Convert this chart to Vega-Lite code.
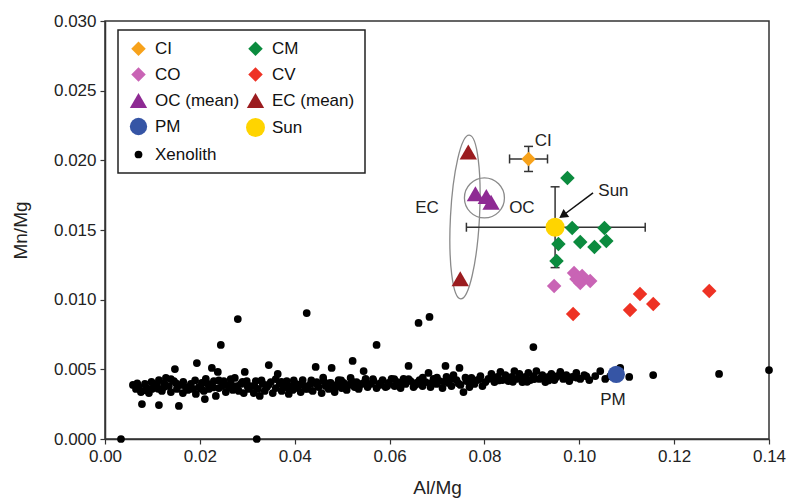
{
  "$schema": "https://vega.github.io/schema/vega-lite/v6.json",
  "width": 664,
  "height": 418,
  "autosize": {"type": "none"},
  "padding": {"left": 105, "top": 21, "right": 24, "bottom": 60},
  "background": "white",
  "datasets": {
    "points": [
      {"g":"Xenolith","x":0.00589,"y":0.00388},{"g":"Xenolith","x":0.00653,"y":0.00359},{"g":"Xenolith","x":0.00716,"y":0.00373},{"g":"Xenolith","x":0.00758,"y":0.00337},{"g":"Xenolith","x":0.00779,"y":0.00251},
      {"g":"Xenolith","x":0.00842,"y":0.00395},{"g":"Xenolith","x":0.00884,"y":0.00366},{"g":"Xenolith","x":0.00926,"y":0.0033},{"g":"Xenolith","x":0.00989,"y":0.00359},{"g":"Xenolith","x":0.01032,"y":0.00388},
      {"g":"Xenolith","x":0.01095,"y":0.00395},{"g":"Xenolith","x":0.01137,"y":0.00423},{"g":"Xenolith","x":0.01137,"y":0.00244},{"g":"Xenolith","x":0.012,"y":0.00345},{"g":"Xenolith","x":0.01242,"y":0.00373},
      {"g":"Xenolith","x":0.01284,"y":0.00438},{"g":"Xenolith","x":0.01347,"y":0.0038},{"g":"Xenolith","x":0.01389,"y":0.00337},{"g":"Xenolith","x":0.01453,"y":0.00416},{"g":"Xenolith","x":0.01474,"y":0.00502},
      {"g":"Xenolith","x":0.01516,"y":0.00359},{"g":"Xenolith","x":0.01558,"y":0.00237},{"g":"Xenolith","x":0.016,"y":0.00388},{"g":"Xenolith","x":0.01642,"y":0.0033},{"g":"Xenolith","x":0.01705,"y":0.00373},
      {"g":"Xenolith","x":0.01747,"y":0.00352},{"g":"Xenolith","x":0.01811,"y":0.00395},{"g":"Xenolith","x":0.01853,"y":0.00359},{"g":"Xenolith","x":0.01916,"y":0.00323},{"g":"Xenolith","x":0.01937,"y":0.00545},
      {"g":"Xenolith","x":0.01979,"y":0.00373},{"g":"Xenolith","x":0.02042,"y":0.00402},{"g":"Xenolith","x":0.02084,"y":0.00345},{"g":"Xenolith","x":0.02105,"y":0.00287},{"g":"Xenolith","x":0.02126,"y":0.00431},
      {"g":"Xenolith","x":0.02189,"y":0.00359},{"g":"Xenolith","x":0.02232,"y":0.00388},{"g":"Xenolith","x":0.02253,"y":0.0051},{"g":"Xenolith","x":0.02295,"y":0.00416},{"g":"Xenolith","x":0.02337,"y":0.00309},
      {"g":"Xenolith","x":0.02379,"y":0.00481},{"g":"Xenolith","x":0.024,"y":0.00366},{"g":"Xenolith","x":0.02463,"y":0.0038},{"g":"Xenolith","x":0.02505,"y":0.00416},{"g":"Xenolith","x":0.02547,"y":0.00337},
      {"g":"Xenolith","x":0.02611,"y":0.00373},{"g":"Xenolith","x":0.02653,"y":0.00402},{"g":"Xenolith","x":0.02695,"y":0.00352},{"g":"Xenolith","x":0.02737,"y":0.00438},{"g":"Xenolith","x":0.02779,"y":0.0038},
      {"g":"Xenolith","x":0.02821,"y":0.00345},{"g":"Xenolith","x":0.02863,"y":0.00395},{"g":"Xenolith","x":0.02926,"y":0.0033},{"g":"Xenolith","x":0.02947,"y":0.00481},{"g":"Xenolith","x":0.02989,"y":0.00416},
      {"g":"Xenolith","x":0.03032,"y":0.00359},
      {"g":"Xenolith","x":0.0068,"y":0.004},{"g":"Xenolith","x":0.0085,"y":0.0035},{"g":"Xenolith","x":0.0098,"y":0.0041},{"g":"Xenolith","x":0.0112,"y":0.0036},{"g":"Xenolith","x":0.0125,"y":0.004},
      {"g":"Xenolith","x":0.0139,"y":0.0043},{"g":"Xenolith","x":0.015,"y":0.004},{"g":"Xenolith","x":0.0165,"y":0.0041},{"g":"Xenolith","x":0.0178,"y":0.0037},{"g":"Xenolith","x":0.019,"y":0.0042},
      {"g":"Xenolith","x":0.0203,"y":0.0036},{"g":"Xenolith","x":0.0215,"y":0.004},{"g":"Xenolith","x":0.0228,"y":0.0037},{"g":"Xenolith","x":0.024,"y":0.0042},{"g":"Xenolith","x":0.0252,"y":0.0039},
      {"g":"Xenolith","x":0.0265,"y":0.0043},{"g":"Xenolith","x":0.0278,"y":0.0036},{"g":"Xenolith","x":0.029,"y":0.0041},{"g":"Xenolith","x":0.03,"y":0.0038},
      {"g":"Xenolith","x":0.03074,"y":0.0038},{"g":"Xenolith","x":0.03137,"y":0.0033},{"g":"Xenolith","x":0.03179,"y":0.00416},{"g":"Xenolith","x":0.03221,"y":0.00359},{"g":"Xenolith","x":0.03263,"y":0.00309},
      {"g":"Xenolith","x":0.03326,"y":0.00395},{"g":"Xenolith","x":0.03368,"y":0.00345},{"g":"Xenolith","x":0.03411,"y":0.00373},{"g":"Xenolith","x":0.03453,"y":0.00531},{"g":"Xenolith","x":0.03495,"y":0.00409},
      {"g":"Xenolith","x":0.03537,"y":0.0033},{"g":"Xenolith","x":0.036,"y":0.00366},{"g":"Xenolith","x":0.03642,"y":0.00467},{"g":"Xenolith","x":0.03684,"y":0.00395},{"g":"Xenolith","x":0.03726,"y":0.00345},
      {"g":"Xenolith","x":0.03768,"y":0.00373},{"g":"Xenolith","x":0.03832,"y":0.00416},{"g":"Xenolith","x":0.03874,"y":0.00323},{"g":"Xenolith","x":0.03916,"y":0.0038},{"g":"Xenolith","x":0.03958,"y":0.00352},
      {"g":"Xenolith","x":0.04021,"y":0.00395},{"g":"Xenolith","x":0.04063,"y":0.00366},{"g":"Xenolith","x":0.04126,"y":0.00337},{"g":"Xenolith","x":0.04168,"y":0.00423},{"g":"Xenolith","x":0.04232,"y":0.0038},
      {"g":"Xenolith","x":0.04274,"y":0.00359},{"g":"Xenolith","x":0.04337,"y":0.00395},{"g":"Xenolith","x":0.04379,"y":0.00345},{"g":"Xenolith","x":0.04442,"y":0.00517},{"g":"Xenolith","x":0.04463,"y":0.00409},
      {"g":"Xenolith","x":0.04505,"y":0.00373},{"g":"Xenolith","x":0.04568,"y":0.0033},{"g":"Xenolith","x":0.04611,"y":0.00416},{"g":"Xenolith","x":0.04653,"y":0.0038},{"g":"Xenolith","x":0.04716,"y":0.00359},
      {"g":"Xenolith","x":0.04758,"y":0.00402},{"g":"Xenolith","x":0.04779,"y":0.0051},{"g":"Xenolith","x":0.04842,"y":0.00337},{"g":"Xenolith","x":0.04884,"y":0.00388},{"g":"Xenolith","x":0.04926,"y":0.00423},
      {"g":"Xenolith","x":0.04989,"y":0.00366},{"g":"Xenolith","x":0.05032,"y":0.00402},{"g":"Xenolith","x":0.05095,"y":0.00352},{"g":"Xenolith","x":0.05137,"y":0.00388},{"g":"Xenolith","x":0.05179,"y":0.00438},
      {"g":"Xenolith","x":0.05221,"y":0.0056},{"g":"Xenolith","x":0.05263,"y":0.00373},{"g":"Xenolith","x":0.05305,"y":0.00409},{"g":"Xenolith","x":0.05347,"y":0.00359},{"g":"Xenolith","x":0.05411,"y":0.00395},
      {"g":"Xenolith","x":0.05453,"y":0.00488},{"g":"Xenolith","x":0.05495,"y":0.00431},{"g":"Xenolith","x":0.05537,"y":0.00373},
      {"g":"Xenolith","x":0.0315,"y":0.0038},{"g":"Xenolith","x":0.033,"y":0.0042},{"g":"Xenolith","x":0.0345,"y":0.0039},{"g":"Xenolith","x":0.036,"y":0.0043},{"g":"Xenolith","x":0.0372,"y":0.0041},
      {"g":"Xenolith","x":0.0385,"y":0.0037},{"g":"Xenolith","x":0.0398,"y":0.0042},{"g":"Xenolith","x":0.041,"y":0.0039},{"g":"Xenolith","x":0.0422,"y":0.0036},{"g":"Xenolith","x":0.0435,"y":0.0042},
      {"g":"Xenolith","x":0.0448,"y":0.0039},{"g":"Xenolith","x":0.046,"y":0.0044},{"g":"Xenolith","x":0.0472,"y":0.004},{"g":"Xenolith","x":0.0485,"y":0.0037},{"g":"Xenolith","x":0.0498,"y":0.0042},
      {"g":"Xenolith","x":0.051,"y":0.0038},{"g":"Xenolith","x":0.0522,"y":0.0041},{"g":"Xenolith","x":0.0535,"y":0.0037},{"g":"Xenolith","x":0.0548,"y":0.0041},
      {"g":"Xenolith","x":0.056,"y":0.00395},{"g":"Xenolith","x":0.05663,"y":0.00416},{"g":"Xenolith","x":0.05726,"y":0.00366},{"g":"Xenolith","x":0.05789,"y":0.00388},{"g":"Xenolith","x":0.05853,"y":0.00423},
      {"g":"Xenolith","x":0.05916,"y":0.00373},{"g":"Xenolith","x":0.05979,"y":0.00402},{"g":"Xenolith","x":0.06042,"y":0.00431},{"g":"Xenolith","x":0.06105,"y":0.0038},{"g":"Xenolith","x":0.06168,"y":0.00409},
      {"g":"Xenolith","x":0.06232,"y":0.00366},{"g":"Xenolith","x":0.06295,"y":0.00431},{"g":"Xenolith","x":0.06337,"y":0.00395},{"g":"Xenolith","x":0.064,"y":0.00524},{"g":"Xenolith","x":0.06442,"y":0.00416},
      {"g":"Xenolith","x":0.06505,"y":0.00373},{"g":"Xenolith","x":0.06568,"y":0.00402},{"g":"Xenolith","x":0.06632,"y":0.00423},{"g":"Xenolith","x":0.06695,"y":0.0038},{"g":"Xenolith","x":0.06758,"y":0.00409},
      {"g":"Xenolith","x":0.06821,"y":0.00474},{"g":"Xenolith","x":0.06863,"y":0.00373},{"g":"Xenolith","x":0.06926,"y":0.00431},{"g":"Xenolith","x":0.06989,"y":0.00395},{"g":"Xenolith","x":0.07053,"y":0.00416},
      {"g":"Xenolith","x":0.07116,"y":0.00366},{"g":"Xenolith","x":0.07179,"y":0.00524},{"g":"Xenolith","x":0.072,"y":0.00445},{"g":"Xenolith","x":0.07242,"y":0.00402},{"g":"Xenolith","x":0.07305,"y":0.0038},
      {"g":"Xenolith","x":0.07347,"y":0.00459},{"g":"Xenolith","x":0.07411,"y":0.00423},{"g":"Xenolith","x":0.07474,"y":0.0051},{"g":"Xenolith","x":0.07495,"y":0.00388},{"g":"Xenolith","x":0.07558,"y":0.00337},
      {"g":"Xenolith","x":0.07621,"y":0.00416},{"g":"Xenolith","x":0.07684,"y":0.00373},{"g":"Xenolith","x":0.07726,"y":0.00438},{"g":"Xenolith","x":0.07789,"y":0.00395},{"g":"Xenolith","x":0.07853,"y":0.00423},
      {"g":"Xenolith","x":0.07916,"y":0.00452},{"g":"Xenolith","x":0.07958,"y":0.0038},{"g":"Xenolith","x":0.08021,"y":0.00409},
      {"g":"Xenolith","x":0.0565,"y":0.0043},{"g":"Xenolith","x":0.058,"y":0.004},{"g":"Xenolith","x":0.0595,"y":0.0038},{"g":"Xenolith","x":0.061,"y":0.0043},{"g":"Xenolith","x":0.0625,"y":0.004},
      {"g":"Xenolith","x":0.064,"y":0.0043},{"g":"Xenolith","x":0.0655,"y":0.0039},{"g":"Xenolith","x":0.067,"y":0.0044},{"g":"Xenolith","x":0.0685,"y":0.004},{"g":"Xenolith","x":0.07,"y":0.0044},
      {"g":"Xenolith","x":0.0715,"y":0.0041},{"g":"Xenolith","x":0.073,"y":0.0043},{"g":"Xenolith","x":0.0745,"y":0.004},{"g":"Xenolith","x":0.076,"y":0.0044},{"g":"Xenolith","x":0.0775,"y":0.0041},
      {"g":"Xenolith","x":0.079,"y":0.0043},
      {"g":"Xenolith","x":0.08084,"y":0.00431},{"g":"Xenolith","x":0.08147,"y":0.00467},{"g":"Xenolith","x":0.08211,"y":0.00409},{"g":"Xenolith","x":0.08274,"y":0.00445},{"g":"Xenolith","x":0.08337,"y":0.00481},
      {"g":"Xenolith","x":0.08379,"y":0.00423},{"g":"Xenolith","x":0.08442,"y":0.00459},{"g":"Xenolith","x":0.08505,"y":0.00416},{"g":"Xenolith","x":0.08568,"y":0.00445},{"g":"Xenolith","x":0.08632,"y":0.00488},
      {"g":"Xenolith","x":0.08674,"y":0.00431},{"g":"Xenolith","x":0.08737,"y":0.00467},{"g":"Xenolith","x":0.088,"y":0.00409},{"g":"Xenolith","x":0.08863,"y":0.00445},{"g":"Xenolith","x":0.08926,"y":0.00474},
      {"g":"Xenolith","x":0.08968,"y":0.00423},{"g":"Xenolith","x":0.09032,"y":0.00452},{"g":"Xenolith","x":0.09095,"y":0.00488},{"g":"Xenolith","x":0.09158,"y":0.00431},{"g":"Xenolith","x":0.09221,"y":0.00459},
      {"g":"Xenolith","x":0.09284,"y":0.00409},{"g":"Xenolith","x":0.09347,"y":0.00445},{"g":"Xenolith","x":0.09411,"y":0.00467},{"g":"Xenolith","x":0.09474,"y":0.00423},{"g":"Xenolith","x":0.09537,"y":0.00452},
      {"g":"Xenolith","x":0.096,"y":0.00481},{"g":"Xenolith","x":0.09663,"y":0.00431},{"g":"Xenolith","x":0.09726,"y":0.00459},{"g":"Xenolith","x":0.09789,"y":0.00416},{"g":"Xenolith","x":0.09853,"y":0.00445},
      {"g":"Xenolith","x":0.09937,"y":0.00474},{"g":"Xenolith","x":0.10021,"y":0.00431},{"g":"Xenolith","x":0.10105,"y":0.00459},{"g":"Xenolith","x":0.10211,"y":0.00423},{"g":"Xenolith","x":0.10337,"y":0.00452},
      {"g":"Xenolith","x":0.10442,"y":0.00488},{"g":"Xenolith","x":0.10547,"y":0.00431},{"g":"Xenolith","x":0.10653,"y":0.00452},{"g":"Xenolith","x":0.10863,"y":0.0051},{"g":"Xenolith","x":0.11053,"y":0.00445},
      {"g":"Xenolith","x":0.0815,"y":0.0044},{"g":"Xenolith","x":0.083,"y":0.0042},{"g":"Xenolith","x":0.0845,"y":0.0044},{"g":"Xenolith","x":0.086,"y":0.0041},{"g":"Xenolith","x":0.0875,"y":0.0044},
      {"g":"Xenolith","x":0.089,"y":0.0041},{"g":"Xenolith","x":0.0905,"y":0.0043},{"g":"Xenolith","x":0.092,"y":0.0044},{"g":"Xenolith","x":0.0935,"y":0.0042},{"g":"Xenolith","x":0.095,"y":0.0044},
      {"g":"Xenolith","x":0.0965,"y":0.0045},{"g":"Xenolith","x":0.098,"y":0.0043},{"g":"Xenolith","x":0.0995,"y":0.0044},{"g":"Xenolith","x":0.1015,"y":0.0045},
      {"g":"Xenolith","x":0.00337,"y":0.0},{"g":"Xenolith","x":0.032,"y":0.0},{"g":"Xenolith","x":0.028,"y":0.00861},{"g":"Xenolith","x":0.02442,"y":0.00675},{"g":"Xenolith","x":0.04253,"y":0.00904},
      {"g":"Xenolith","x":0.06611,"y":0.00833},{"g":"Xenolith","x":0.06842,"y":0.00876},{"g":"Xenolith","x":0.05726,"y":0.00675},{"g":"Xenolith","x":0.09032,"y":0.0066},{"g":"Xenolith","x":0.11558,"y":0.00459},
      {"g":"Xenolith","x":0.12947,"y":0.00467},{"g":"Xenolith","x":0.14,"y":0.00495},
      {"g":"PM","x":0.1078,"y":0.00464},
      {"g":"CV","x":0.0987,"y":0.00897},{"g":"CV","x":0.1107,"y":0.00926},{"g":"CV","x":0.1128,"y":0.01041},{"g":"CV","x":0.1156,"y":0.00969},{"g":"CV","x":0.1274,"y":0.01062},
      {"g":"CO","x":0.0947,"y":0.01098},{"g":"CO","x":0.0989,"y":0.01191},{"g":"CO","x":0.1006,"y":0.0117},{"g":"CO","x":0.1023,"y":0.01134},{"g":"CO","x":0.1002,"y":0.0112},{"g":"CO","x":0.0994,"y":0.01148},
      {"g":"CM","x":0.0975,"y":0.01873},{"g":"CM","x":0.0985,"y":0.01514},{"g":"CM","x":0.1053,"y":0.01514},{"g":"CM","x":0.0956,"y":0.014},{"g":"CM","x":0.1002,"y":0.01414},{"g":"CM","x":0.1032,"y":0.01378},{"g":"CM","x":0.1057,"y":0.01421},{"g":"CM","x":0.0952,"y":0.01278},
      {"g":"EC (mean)","x":0.0766,"y":0.0206},{"g":"EC (mean)","x":0.0749,"y":0.0115},
      {"g":"OC (mean)","x":0.0781,"y":0.0176},{"g":"OC (mean)","x":0.0804,"y":0.0174},{"g":"OC (mean)","x":0.0814,"y":0.017},
      {"g":"CI","x":0.0893,"y":0.0201},
      {"g":"Sun","x":0.0949,"y":0.0152}
    ],
    "bars": [
      {"name":"CI","x":0.0893,"y":0.0201,"xlo":0.0853,"xhi":0.0933,"ylo":0.0192,"yhi":0.021},
      {"name":"Sun","x":0.0949,"y":0.0152,"xlo":0.0762,"xhi":0.1139,"ylo":0.0123,"yhi":0.0181}
    ],
    "rings": [
      {"name":"EC","x":0.0759,"y":0.01593},
      {"name":"OC","x":0.08,"y":0.0173}
    ],
    "arrow": [
      {"x":0.1029,"y":0.01766,"x2":0.09653,"y2":0.01604}
    ],
    "notes": [
      {"label":"CI","x":0.0924,"y":0.02139},
      {"label":"Sun","x":0.1072,"y":0.0178},
      {"label":"EC","x":0.0679,"y":0.01656},
      {"label":"OC","x":0.0879,"y":0.01656},
      {"label":"PM","x":0.1071,"y":0.00278}
    ]
  },
  "layer": [
    {
      "data": {"name": "rings"},
      "transform": [{"filter": "datum.name === 'EC'"}],
      "mark": {"type": "point", "shape": "M0,-1 C0.0978,-1 0.177,-0.5523 0.177,0 C0.177,0.5523 0.0978,1 0,1 C-0.0978,1 -0.177,0.5523 -0.177,0 C-0.177,-0.5523 -0.0978,-1 0,-1 Z", "size": 26896, "angle": 3, "filled": false, "stroke": "#8a8a8a", "strokeWidth": 1.3, "opacity": 1},
      "encoding": {
        "x": {"field": "x", "type": "quantitative"},
        "y": {"field": "y", "type": "quantitative"}
      }
    },
    {
      "data": {"name": "rings"},
      "transform": [{"filter": "datum.name === 'OC'"}],
      "mark": {"type": "point", "shape": "circle", "size": 1600, "filled": false, "stroke": "#8a8a8a", "strokeWidth": 1.3, "opacity": 1},
      "encoding": {
        "x": {"field": "x", "type": "quantitative"},
        "y": {"field": "y", "type": "quantitative"}
      }
    },
    {
      "data": {"name": "bars"},
      "mark": {"type": "rule", "color": "#333", "strokeWidth": 1.5},
      "encoding": {
        "x": {"field": "xlo", "type": "quantitative"},
        "x2": {"field": "xhi"},
        "y": {"field": "y", "type": "quantitative"}
      }
    },
    {
      "data": {"name": "bars"},
      "mark": {"type": "rule", "color": "#333", "strokeWidth": 1.5},
      "encoding": {
        "x": {"field": "x", "type": "quantitative"},
        "y": {"field": "ylo", "type": "quantitative"},
        "y2": {"field": "yhi"}
      }
    },
    {
      "data": {"name": "bars"},
      "mark": {"type": "tick", "orient": "vertical", "size": 9, "thickness": 1.5, "color": "#333", "opacity": 1},
      "encoding": {
        "x": {"field": "xlo", "type": "quantitative"},
        "y": {"field": "y", "type": "quantitative"}
      }
    },
    {
      "data": {"name": "bars"},
      "mark": {"type": "tick", "orient": "vertical", "size": 9, "thickness": 1.5, "color": "#333", "opacity": 1},
      "encoding": {
        "x": {"field": "xhi", "type": "quantitative"},
        "y": {"field": "y", "type": "quantitative"}
      }
    },
    {
      "data": {"name": "bars"},
      "mark": {"type": "tick", "orient": "horizontal", "size": 9, "thickness": 1.5, "color": "#333", "opacity": 1},
      "encoding": {
        "x": {"field": "x", "type": "quantitative"},
        "y": {"field": "ylo", "type": "quantitative"}
      }
    },
    {
      "data": {"name": "bars"},
      "mark": {"type": "tick", "orient": "horizontal", "size": 9, "thickness": 1.5, "color": "#333", "opacity": 1},
      "encoding": {
        "x": {"field": "x", "type": "quantitative"},
        "y": {"field": "yhi", "type": "quantitative"}
      }
    },
    {
      "data": {"name": "points"},
      "mark": {"type": "point", "filled": true, "opacity": 1},
      "encoding": {
        "x": {
          "field": "x", "type": "quantitative",
          "scale": {"domain": [0, 0.14], "nice": false, "zero": false},
          "axis": {"title": "Al/Mg", "values": [0, 0.02, 0.04, 0.06, 0.08, 0.1, 0.12, 0.14], "format": ".2f", "labelFlush": false, "labelOverlap": false, "titlePadding": 14}
        },
        "y": {
          "field": "y", "type": "quantitative",
          "scale": {"domain": [0, 0.03], "nice": false, "zero": false},
          "axis": {"title": "Mn/Mg", "values": [0, 0.005, 0.01, 0.015, 0.02, 0.025, 0.03], "format": ".3f", "labelFlush": false, "labelOverlap": false, "titlePadding": 23}
        },
        "color": {
          "field": "g", "type": "nominal",
          "scale": {
            "domain": ["CI", "CO", "OC (mean)", "PM", "Xenolith", "CM", "CV", "EC (mean)", "Sun"],
            "range": ["#F7A21B", "#C964B5", "#8E2A93", "#3655A5", "#000000", "#0B8B3E", "#EE3224", "#9B1C1F", "#FFD400"]
          },
          "legend": {
            "orient": "none", "legendX": 13, "legendY": 9, "columns": 2, "title": null,
            "strokeColor": "#222", "fillColor": "white",
            "padding": 10, "rowPadding": 8, "columnPadding": 5,
            "labelFont": "Liberation Sans", "labelFontSize": 17, "labelColor": "#111", "labelOffset": 6
          }
        },
        "shape": {
          "field": "g", "type": "nominal",
          "scale": {
            "domain": ["CI", "CO", "OC (mean)", "PM", "Xenolith", "CM", "CV", "EC (mean)", "Sun"],
            "range": ["diamond", "diamond", "triangle-up", "circle", "circle", "diamond", "diamond", "triangle-up", "circle"]
          }
        },
        "size": {
          "field": "g", "type": "nominal",
          "scale": {
            "type": "ordinal",
            "domain": ["CI", "CO", "OC (mean)", "PM", "Xenolith", "CM", "CV", "EC (mean)", "Sun"],
            "range": [210, 210, 300, 300, 60, 210, 210, 300, 360]
          }
        }
      }
    },
    {
      "data": {"name": "arrow"},
      "mark": {"type": "rule", "color": "#111", "strokeWidth": 1.5},
      "encoding": {
        "x": {"field": "x", "type": "quantitative"},
        "y": {"field": "y", "type": "quantitative"},
        "x2": {"field": "x2"},
        "y2": {"field": "y2"}
      }
    },
    {
      "data": {"name": "arrow"},
      "mark": {"type": "point", "shape": "triangle-up", "size": 100, "angle": 235, "filled": true, "color": "#111", "opacity": 1},
      "encoding": {
        "x": {"field": "x2", "type": "quantitative"},
        "y": {"field": "y2", "type": "quantitative"}
      }
    },
    {
      "data": {"name": "notes"},
      "mark": {"type": "text", "font": "Liberation Sans", "fontSize": 17, "color": "#222", "align": "center", "baseline": "middle"},
      "encoding": {
        "x": {"field": "x", "type": "quantitative"},
        "y": {"field": "y", "type": "quantitative"},
        "text": {"field": "label"}
      }
    }
  ],
  "config": {
    "view": {"stroke": "#333", "strokeWidth": 1.5},
    "legend": {"strokeWidth": 1.5},
    "axis": {
      "grid": false, "domainColor": "#333", "domainWidth": 1.5, "tickColor": "#333", "tickWidth": 1.2, "tickSize": 5,
      "labelFont": "Liberation Sans", "labelFontSize": 17, "labelColor": "#222", "labelPadding": 4,
      "titleFont": "Liberation Sans", "titleFontSize": 19, "titleFontWeight": "normal", "titleColor": "#222"
    }
  }
}
